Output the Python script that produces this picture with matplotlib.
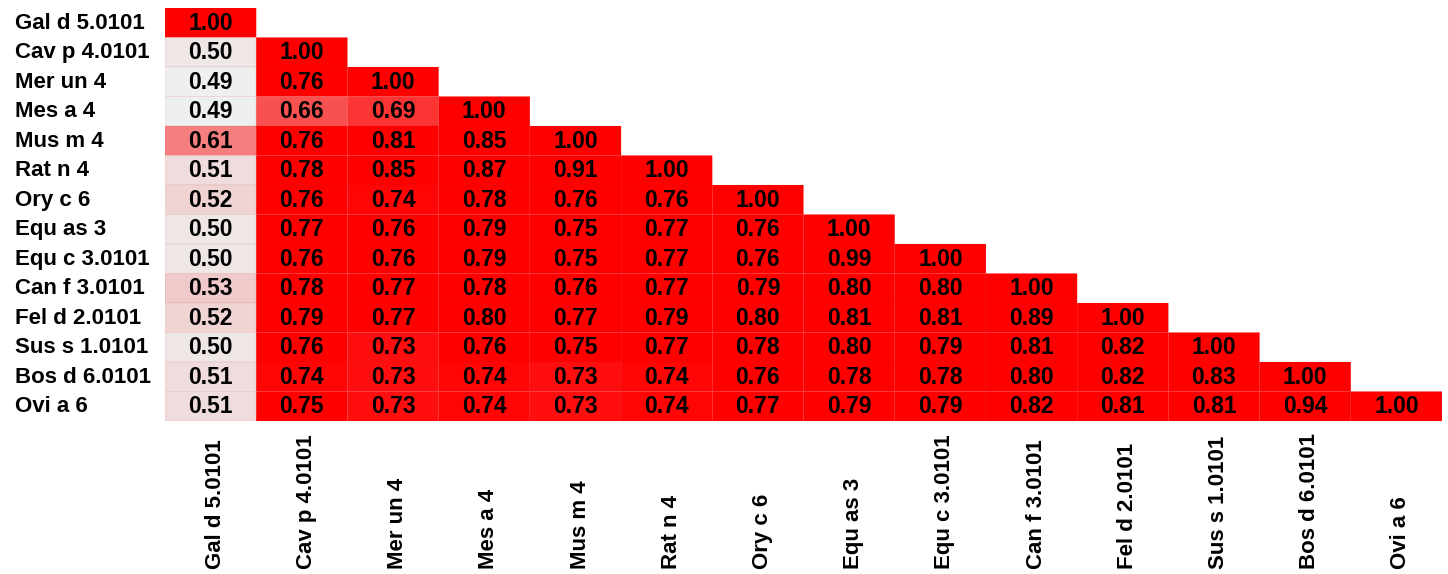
import numpy as np
import matplotlib.pyplot as plt
from matplotlib.colors import LinearSegmentedColormap
from matplotlib.transforms import blended_transform_factory

plt.rcParams['font.family'] = ['Liberation Sans', 'DejaVu Sans']

alleles = ['Gal d 5.0101', 'Cav p 4.0101', 'Mer un 4', 'Mes a 4', 'Mus m 4',
           'Rat n 4', 'Ory c 6', 'Equ as 3', 'Equ c 3.0101', 'Can f 3.0101',
           'Fel d 2.0101', 'Sus s 1.0101', 'Bos d 6.0101', 'Ovi a 6']

# lower triangle, row by row
rows = [
    [1.00],
    [0.50, 1.00],
    [0.49, 0.76, 1.00],
    [0.49, 0.66, 0.69, 1.00],
    [0.61, 0.76, 0.81, 0.85, 1.00],
    [0.51, 0.78, 0.85, 0.87, 0.91, 1.00],
    [0.52, 0.76, 0.74, 0.78, 0.76, 0.76, 1.00],
    [0.50, 0.77, 0.76, 0.79, 0.75, 0.77, 0.76, 1.00],
    [0.50, 0.76, 0.76, 0.79, 0.75, 0.77, 0.76, 0.99, 1.00],
    [0.53, 0.78, 0.77, 0.78, 0.76, 0.77, 0.79, 0.80, 0.80, 1.00],
    [0.52, 0.79, 0.77, 0.80, 0.77, 0.79, 0.80, 0.81, 0.81, 0.89, 1.00],
    [0.50, 0.76, 0.73, 0.76, 0.75, 0.77, 0.78, 0.80, 0.79, 0.81, 0.82, 1.00],
    [0.51, 0.74, 0.73, 0.74, 0.73, 0.74, 0.76, 0.78, 0.78, 0.80, 0.82, 0.83, 1.00],
    [0.51, 0.75, 0.73, 0.74, 0.73, 0.74, 0.77, 0.79, 0.79, 0.82, 0.81, 0.81, 0.94, 1.00],
]

n = len(alleles)
mat = np.full((n, n), np.nan)
for i, r in enumerate(rows):
    mat[i, :len(r)] = r
data = np.ma.masked_invalid(mat)

cmap = LinearSegmentedColormap.from_list('gr', ['#edf0ef', '#ff0000'])

fig = plt.figure(figsize=(14.48, 5.74), dpi=100)
ax = fig.add_axes([165 / 1448, 1 - 421 / 574, 1277 / 1448, 413 / 574])
# pcolor skips masked cells, so no edges are drawn on the empty half
ax.pcolor(np.arange(n + 1), np.arange(n + 1), data, cmap=cmap,
          vmin=0.49, vmax=0.745, edgecolors=(0.8, 0.1, 0.1, 0.1), linewidth=0.6)
ax.set_xlim(0, n)
ax.set_ylim(n, 0)
ax.axis('off')

for i in range(n):
    for j in range(len(rows[i])):
        ax.text(j + 0.5, i + 0.52, f'{rows[i][j]:.2f}', ha='center', va='center',
                fontsize=16.5, fontweight='bold', color='black')

# row labels, left aligned at the figure edge
tr = blended_transform_factory(fig.transFigure, ax.transData)
for i, name in enumerate(alleles):
    ax.text(15 / 1448, i + 0.52, name, transform=tr, ha='left', va='center',
            fontsize=16, fontweight='bold')

# column labels, rotated, bottoms aligned
trx = blended_transform_factory(ax.transData, fig.transFigure)
for j, name in enumerate(alleles):
    ax.text(j + 0.55, 5 / 574, name, transform=trx, ha='center', va='bottom',
            rotation=90, fontsize=16, fontweight='bold')

fig.savefig('out.png', dpi=100)
